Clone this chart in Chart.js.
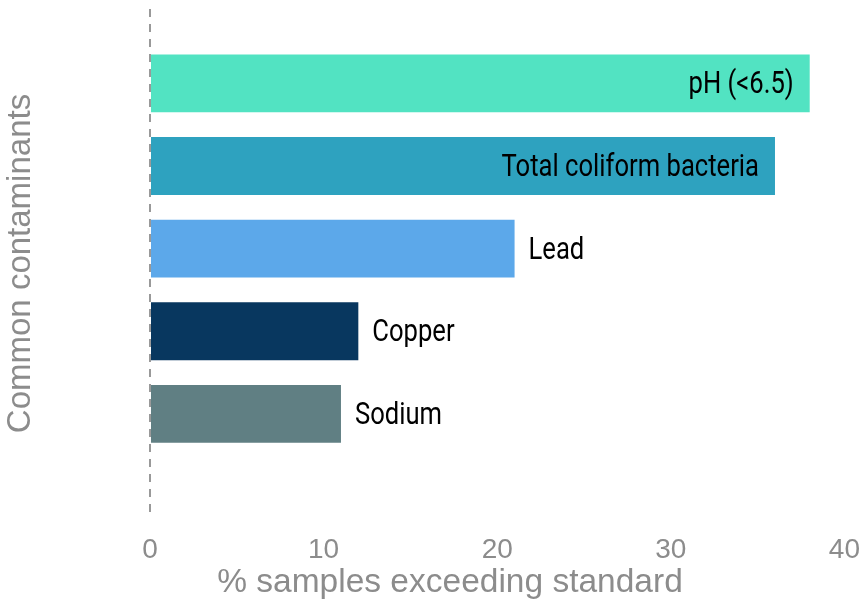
<!DOCTYPE html>
<html>
<head>
<meta charset="utf-8">
<script src="https://cdn.jsdelivr.net/npm/chart.js@4/dist/chart.umd.min.js"></script>
<style>
  html, body { margin: 0; padding: 0; background: #fff; }
  #wrap { width: 860px; height: 603px; position: relative; }
</style>
</head>
<body>
<div id="wrap"><canvas id="contamChart"></canvas></div>
<script>
const contaminants = ['pH (<6.5)', 'Total coliform bacteria', 'Lead', 'Copper', 'Sodium'];
const positions = [1, 2, 3, 4, 5];
const pctExceeding = [38, 36, 21, 12, 11];
const barColors = ['#52e3c2', '#2ea2bf', '#5ca8ea', '#08375f', '#607f83'];
const xTicks = [0, 10, 20, 30, 40];
const xTitle = '% samples exceeding standard';
const yTitle = 'Common contaminants';

const axisGrey = '#8c8c8c';
const axisFont = '"Liberation Sans", Arial, sans-serif';

// bar names: inside the bar when it is long, otherwise just after it.
// no condensed face installed, so squeeze the text horizontally
const barLabels = {
  id: 'barLabels',
  afterDatasetsDraw(chart) {
    const ctx = chart.ctx;
    const meta = chart.getDatasetMeta(0);
    const squeeze = 0.8;
    ctx.save();
    ctx.font = '32px Roboto, "Liberation Sans", sans-serif';
    ctx.fillStyle = '#000';
    ctx.textBaseline = 'middle';
    meta.data.forEach((bar, i) => {
      const inside = pctExceeding[i] > 30;
      ctx.textAlign = inside ? 'right' : 'left';
      const x = inside ? bar.x - 16 : bar.x + 14;
      ctx.save();
      ctx.translate(x, bar.y + 2);
      ctx.scale(squeeze, 1);
      ctx.fillText(contaminants[i], 0, 0);
      ctx.restore();
    });
    ctx.restore();
  }
};

// x title sits a bit left of the plot centre, as in the original
const xTitlePlugin = {
  id: 'xTitlePlugin',
  afterDraw(chart) {
    const ctx = chart.ctx;
    const area = chart.chartArea;
    ctx.save();
    ctx.font = '33.5px ' + axisFont;
    ctx.fillStyle = axisGrey;
    ctx.textAlign = 'center';
    ctx.textBaseline = 'middle';
    const yAxis = chart.scales.y;
    ctx.fillText(xTitle, (yAxis.left + 36 + chart.width) / 2, area.bottom + 65);
    ctx.restore();
  }
};

new Chart(document.getElementById('contamChart'), {
  type: 'bar',
  data: {
    datasets: [{
      data: positions.map((p, i) => ({ x: pctExceeding[i], y: p })),
      backgroundColor: barColors,
      borderWidth: 0,
      barPercentage: 0.7,
      categoryPercentage: 1
    }]
  },
  options: {
    indexAxis: 'y',
    responsive: true,
    maintainAspectRatio: false,
    animation: false,
    layout: { padding: { top: 9, left: 4, right: 0, bottom: 39 } },
    plugins: {
      legend: { display: false },
      tooltip: { enabled: false }
    },
    scales: {
      x: {
        type: 'linear',
        min: 0,
        max: 40,
        afterBuildTicks(scale) {
          scale.ticks = xTicks.map(v => ({ value: v }));
        },
        grid: {
          z: 1,
          drawTicks: true,
          tickLength: 18,
          tickColor: 'rgba(0,0,0,0)',
          lineWidth: 2,
          color: c => (c.tick && c.tick.value === 0 ? '#999999' : 'rgba(0,0,0,0)')
        },
        border: { display: false, dash: [8, 7] },
        ticks: {
          color: axisGrey,
          font: { family: axisFont, size: 28, lineHeight: 1 },
          padding: 0
        }
      },
      y: {
        type: 'linear',
        offset: false,
        reverse: true,
        min: 0.1,
        max: 6.26,
        afterBuildTicks(scale) {
          scale.ticks = positions.map(v => ({ value: v }));
        },
        afterFit(scale) {
          scale.width = 146;
        },
        grid: { display: false, offset: false },
        ticks: { display: false },
        border: { display: false },
        title: {
          display: true,
          text: yTitle,
          color: axisGrey,
          font: { family: axisFont, size: 33, lineHeight: 1 },
          padding: { top: 0, bottom: 0 }
        }
      }
    }
  },
  plugins: [barLabels, xTitlePlugin]
});
</script>
</body>
</html>
